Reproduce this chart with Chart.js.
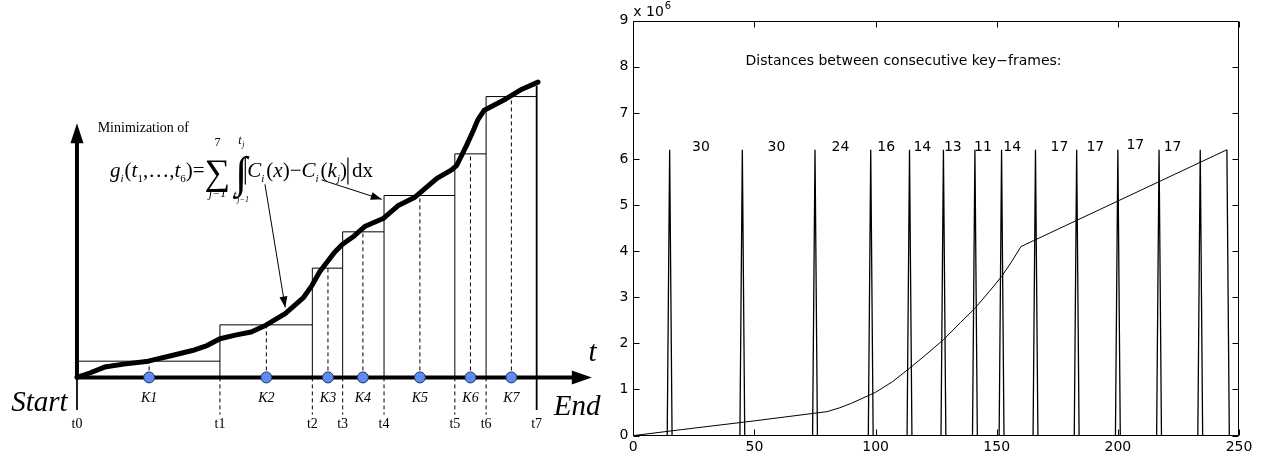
<!DOCTYPE html>
<html>
<head>
<meta charset="utf-8">
<script src="https://cdn.jsdelivr.net/npm/chart.js@4"></script>
<style>
  html, body { margin: 0; padding: 0; background: #fff; }
  #wrap { position: relative; width: 1263px; height: 461px; overflow: hidden; }
  #diagram { position: absolute; left: 0; top: 0; }
  #distPlot { position: absolute; left: 560px; top: 0; }
</style>
</head>
<body>
<div id="wrap">
  <canvas id="diagram" width="610" height="461"></canvas>
  <canvas id="distPlot" width="703" height="461"></canvas>
</div>
<script>
// ---------- left sketch: cumulative curve split into 7 segments ----------
const tBounds = [0, 31.1, 51.2, 57.8, 66.8, 82.2, 89.0, 100];
const tNames = ['t0', 't1', 't2', 't3', 't4', 't5', 't6', 't7'];
const keyPos = [15.7, 41.2, 54.6, 62.2, 74.6, 85.6, 94.5];
const keyNames = ['K1', 'K2', 'K3', 'K4', 'K5', 'K6', 'K7'];
const keyLevel = [5.5, 17.8, 37.0, 49.3, 61.6, 75.7, 95.1];
const cumX = [0, 2.8, 6.0, 10.2, 15.5, 20.9, 25.1, 28.3, 31.1, 34.7, 37.9, 41.1, 45.3, 49.2, 51.1, 52.8,
  56.0, 57.7, 60.3, 62.7, 66.6, 69.8, 73.4, 78.3, 81.5, 82.6, 84.7, 86.2, 87.2, 88.6, 93.3, 96.8, 100.3];
const cumY = [0, 1.5, 3.5, 4.5, 5.5, 7.5, 9.1, 10.8, 13.1, 14.4, 15.4, 17.7, 21.6, 26.9, 31.1, 35.8,
  42.3, 45.0, 47.9, 51.2, 53.8, 58.1, 60.9, 67.4, 70.3, 71.8, 78.4, 83.5, 87.2, 90.5, 94.3, 97.6, 100];

// ---------- right plot: key-frame spikes and distance curve ----------
const frames = [15, 45, 75, 98, 114, 128, 141, 152, 166, 183, 200, 217, 234];
const lastFrame = 245;
const spikeTop = 6.2e6;
const gapText = ['30', '30', '24', '16', '14', '13', '11', '14', '17', '17', '17', '17'];
const gapTextX = [27.9, 59.1, 85.5, 104.4, 119.3, 131.9, 144.3, 156.4, 175.9, 190.7, 207.2, 222.6];
const gapTextY = [6.18, 6.18, 6.18, 6.18, 6.18, 6.18, 6.18, 6.18, 6.18, 6.18, 6.22, 6.18];
const distX = [0, 20, 50, 80, 85, 90, 100, 107, 114, 120, 128, 135, 141, 147, 152, 156, 160, 245];
const distY = [0, 0.13, 0.32, 0.52, 0.60, 0.70, 0.94, 1.17, 1.46, 1.72, 2.08, 2.45, 2.76, 3.13, 3.45, 3.76, 4.10, 6.20];
const yTicks = [0, 1, 2, 3, 4, 5, 6, 7, 8, 9];
const xTicks = [0, 50, 100, 150, 200, 250];

const serif = '"Liberation Serif", "Times New Roman", serif';
const sans = '"DejaVu Sans", Arial, sans-serif';

const pts = (xs, ys) => xs.map((x, i) => ({ x: x, y: ys[i] }));

// ---- left sketch datasets ----
const levelSegs = [];
keyLevel.forEach((lv, i) => {
  levelSegs.push({ x: tBounds[i], y: lv }, { x: tBounds[i + 1], y: lv }, { x: tBounds[i + 1], y: null });
});
const boundUp = [];
const boundDown = [];
for (let i = 1; i < tBounds.length - 1; i++) {
  boundUp.push({ x: tBounds[i], y: 0 }, { x: tBounds[i], y: Math.max(keyLevel[i - 1], keyLevel[i]) }, { x: tBounds[i], y: null });
  boundDown.push({ x: tBounds[i], y: 0 }, { x: tBounds[i], y: -12.6 }, { x: tBounds[i], y: null });
}
const keyDash = [];
keyPos.forEach((k, i) => keyDash.push({ x: k, y: 0 }, { x: k, y: keyLevel[i] }, { x: k, y: null }));

const lineDs = (data, extra) => Object.assign({
  data: data, showLine: true, pointRadius: 0, borderColor: '#000', borderWidth: 1, spanGaps: false
}, extra);

function arrowHead(ctx, x0, y0, x1, y1, len, half) {
  const a = Math.atan2(y1 - y0, x1 - x0);
  const bx = x1 - len * Math.cos(a), by = y1 - len * Math.sin(a);
  ctx.beginPath();
  ctx.moveTo(x1, y1);
  ctx.lineTo(bx + half * Math.sin(a), by - half * Math.cos(a));
  ctx.lineTo(bx - half * Math.sin(a), by + half * Math.cos(a));
  ctx.closePath();
  ctx.fill();
}

function drawFormula(ctx, x, y) {
  const it = s => `italic ${s}px ${serif}`;
  const rm = s => `${s}px ${serif}`;
  ctx.textAlign = 'left';
  ctx.textBaseline = 'alphabetic';
  const put = (txt, font, dy = 0, gap = 0) => {
    ctx.font = font;
    ctx.fillText(txt, x, y + dy);
    x += ctx.measureText(txt).width + gap;
  };
  put('g', it(21));
  put('i', it(11), 5, 1);
  put('(', rm(21));
  put('t', it(21));
  put('1', rm(11), 5);
  put(',…,', rm(21));
  put('t', it(21));
  put('6', rm(11), 5);
  put(')=', rm(21));
  ctx.font = rm(36);
  const sw = ctx.measureText('∑').width;
  ctx.fillText('∑', x, y + 7);
  ctx.textAlign = 'center';
  ctx.font = rm(12);
  ctx.fillText('7', x + sw / 2, y - 31);
  ctx.font = it(12);
  ctx.fillText('j=1', x + sw / 2, y + 20);
  ctx.textAlign = 'left';
  x += sw + 7;
  ctx.font = it(12);
  ctx.fillText('t', x + 1, y - 33);
  ctx.font = it(8);
  ctx.fillText('j', x + 5, y - 30);
  ctx.font = it(12);
  ctx.fillText('t', x - 4, y + 22);
  ctx.font = it(8);
  ctx.fillText('j−1', x, y + 25);
  ctx.font = rm(44);
  ctx.fillText('∫', x - 2, y + 10);
  x += 8;
  ctx.lineWidth = 1.2;
  ctx.beginPath();
  ctx.moveTo(x, y - 20); ctx.lineTo(x, y + 7);
  ctx.stroke();
  x += 2;
  put('C', it(21));
  put('i', it(11), 5, 2);
  put('(', rm(21));
  put('x', it(21));
  put(')−', rm(21));
  put('C', it(21));
  put('i', it(11), 5, 2);
  put('(', rm(21));
  put('k', it(21));
  put('j', it(11), 5);
  put(')', rm(21), 0, 1);
  ctx.beginPath();
  ctx.moveTo(x, y - 20); ctx.lineTo(x, y + 7);
  ctx.stroke();
  x += 4;
  put('dx', rm(21));
}

const sketchDecor = {
  id: 'sketchDecor',
  afterDatasetsDraw(chart) {
    const { ctx, scales: { x, y } } = chart;
    const px = v => x.getPixelForValue(v);
    const py = v => y.getPixelForValue(v);
    ctx.save();
    ctx.fillStyle = '#000';
    ctx.strokeStyle = '#000';
    // axis arrow heads
    arrowHead(ctx, px(0), py(0), px(112), py(0), 20, 7);
    arrowHead(ctx, px(0), py(0), px(0), py(86.1), 20, 6.5);
    // pointers from the formula
    const pointers = [[40.9, 65.4, 45.3, 23.7], [53.2, 66.9, 66.3, 60.3]];
    ctx.lineWidth = 1;
    pointers.forEach(p => {
      ctx.beginPath();
      ctx.moveTo(px(p[0]), py(p[1]));
      ctx.lineTo(px(p[2]), py(p[3]));
      ctx.stroke();
      arrowHead(ctx, px(p[0]), py(p[1]), px(p[2]), py(p[3]), 11, 4);
    });
    // labels
    ctx.textAlign = 'center';
    ctx.textBaseline = 'middle';
    ctx.font = `14px ${serif}`;
    tNames.forEach((n, i) => ctx.fillText(n, px(tBounds[i]), py(-15.9)));
    ctx.font = `italic 14px ${serif}`;
    keyNames.forEach((n, i) => ctx.fillText(n, px(keyPos[i]), py(-7.2)));
    ctx.textAlign = 'left';
    ctx.textBaseline = 'alphabetic';
    ctx.font = `italic 29px ${serif}`;
    ctx.fillText('Start', px(-14.3), py(-11.3));
    ctx.fillText('End', px(103.7), py(-12.6));
    ctx.fillText('t', px(111.3), py(5.5));
    ctx.font = `14px ${serif}`;
    ctx.textBaseline = 'middle';
    ctx.fillText('Minimization of', px(4.5), py(84.4));
    drawFormula(ctx, px(7.2), py(67.7));
    ctx.restore();
  }
};

new Chart(document.getElementById('diagram'), {
  type: 'scatter',
  data: {
    datasets: [
      { data: pts(keyPos, keyPos.map(() => 0)), pointRadius: 5.5, pointBackgroundColor: '#5b8df2',
        pointBorderColor: '#1d2f5c', pointBorderWidth: 1, showLine: false, order: 0 },
      lineDs(pts(cumX, cumY), { borderWidth: 5, borderJoinStyle: 'round', borderCapStyle: 'round', order: 1 }),
      lineDs([{ x: 0, y: 0 }, { x: 107.8, y: 0 }], { borderWidth: 4, order: 2 }),
      lineDs([{ x: 0, y: 0 }, { x: 0, y: 79.5 }], { borderWidth: 4, order: 2 }),
      lineDs(levelSegs, { order: 3 }),
      lineDs(boundUp, { order: 3 }),
      lineDs(boundDown, { borderDash: [4, 3], order: 3 }),
      lineDs(keyDash, { borderDash: [4, 3], order: 3 }),
      lineDs([{ x: 0, y: 0 }, { x: 0, y: -11 }], { order: 3 }),
      lineDs([{ x: 100, y: 98.8 }, { x: 100, y: -11 }], { borderWidth: 1.8, order: 3 })
    ]
  },
  options: {
    responsive: false,
    animation: false,
    devicePixelRatio: 1,
    layout: { padding: 0 },
    plugins: { legend: { display: false }, tooltip: { enabled: false } },
    scales: {
      x: { type: 'linear', display: false, min: -15.33, max: 114.54 },
      y: { type: 'linear', display: false, min: -26.1, max: 125.6 }
    }
  },
  plugins: [sketchDecor]
});

// ---- right plot ----
const spikeData = [];
frames.forEach(f => {
  spikeData.push({ x: f - 1, y: 0 }, { x: f, y: spikeTop }, { x: f + 1, y: 0 }, { x: f + 1.5, y: null });
});
spikeData.push({ x: lastFrame, y: spikeTop }, { x: lastFrame + 1, y: 0 });

const plotDecor = {
  id: 'plotDecor',
  afterDraw(chart) {
    const { ctx, chartArea: a, scales: { x, y } } = chart;
    ctx.save();
    ctx.strokeStyle = '#000';
    ctx.lineWidth = 1;
    const L = Math.round(a.left) + 0.5, R = Math.round(a.right) - 0.5;
    const T = Math.round(a.top) + 0.5, B = Math.round(a.bottom) - 0.5;
    ctx.beginPath();
    ctx.rect(L, T, R - L, B - T);
    xTicks.forEach(v => {
      const p = Math.round(x.getPixelForValue(v)) + 0.5;
      ctx.moveTo(p, B); ctx.lineTo(p, B - 6);
      ctx.moveTo(p, T); ctx.lineTo(p, T + 6);
    });
    yTicks.forEach(v => {
      const p = Math.round(y.getPixelForValue(v * 1e6)) + 0.5;
      ctx.moveTo(L, p); ctx.lineTo(L + 6, p);
      ctx.moveTo(R, p); ctx.lineTo(R - 6, p);
    });
    ctx.stroke();
    ctx.fillStyle = '#000';
    ctx.textBaseline = 'alphabetic';
    ctx.textAlign = 'left';
    ctx.font = `14px ${sans}`;
    ctx.fillText('x 10', a.left, a.top - 5);
    const w = ctx.measureText('x 10').width;
    ctx.font = `10px ${sans}`;
    ctx.fillText('6', a.left + w + 1, a.top - 12);
    ctx.font = `14px ${sans}`;
    ctx.textBaseline = 'middle';
    ctx.fillText('Distances between consecutive key\u2212frames:', x.getPixelForValue(46.3), y.getPixelForValue(8.11e6));
    ctx.textAlign = 'center';
    ctx.textBaseline = 'alphabetic';
    gapText.forEach((t, i) => ctx.fillText(t, x.getPixelForValue(gapTextX[i]), y.getPixelForValue(gapTextY[i] * 1e6)));
    ctx.restore();
  }
};

new Chart(document.getElementById('distPlot'), {
  type: 'scatter',
  data: {
    datasets: [
      lineDs(spikeData, { borderWidth: 1.3 }),
      lineDs(pts(distX, distY.map(v => v * 1e6)), { borderWidth: 1 })
    ]
  },
  options: {
    responsive: false,
    animation: false,
    devicePixelRatio: 1,
    layout: { padding: { left: 0, right: 24, top: 20.7, bottom: 0 } },
    plugins: { legend: { display: false }, tooltip: { enabled: false } },
    scales: {
      x: {
        type: 'linear', min: 0, max: 250,
        afterBuildTicks: s => { s.ticks = xTicks.map(v => ({ value: v })); },
        afterFit: s => { s.height = 25.4; },
        grid: { display: false, drawTicks: false },
        border: { display: false },
        ticks: { padding: 3, color: '#000', font: { family: sans, size: 14 }, maxRotation: 0, autoSkip: false }
      },
      y: {
        type: 'linear', min: 0, max: 9e6,
        afterBuildTicks: s => { s.ticks = yTicks.map(v => ({ value: v * 1e6 })); },
        afterFit: s => { s.width = 73.3; },
        grid: { display: false, drawTicks: false },
        border: { display: false },
        ticks: { padding: 5, color: '#000', font: { family: sans, size: 14 }, callback: v => String(v / 1e6) }
      }
    }
  },
  plugins: [plotDecor]
});
</script>
</body>
</html>
